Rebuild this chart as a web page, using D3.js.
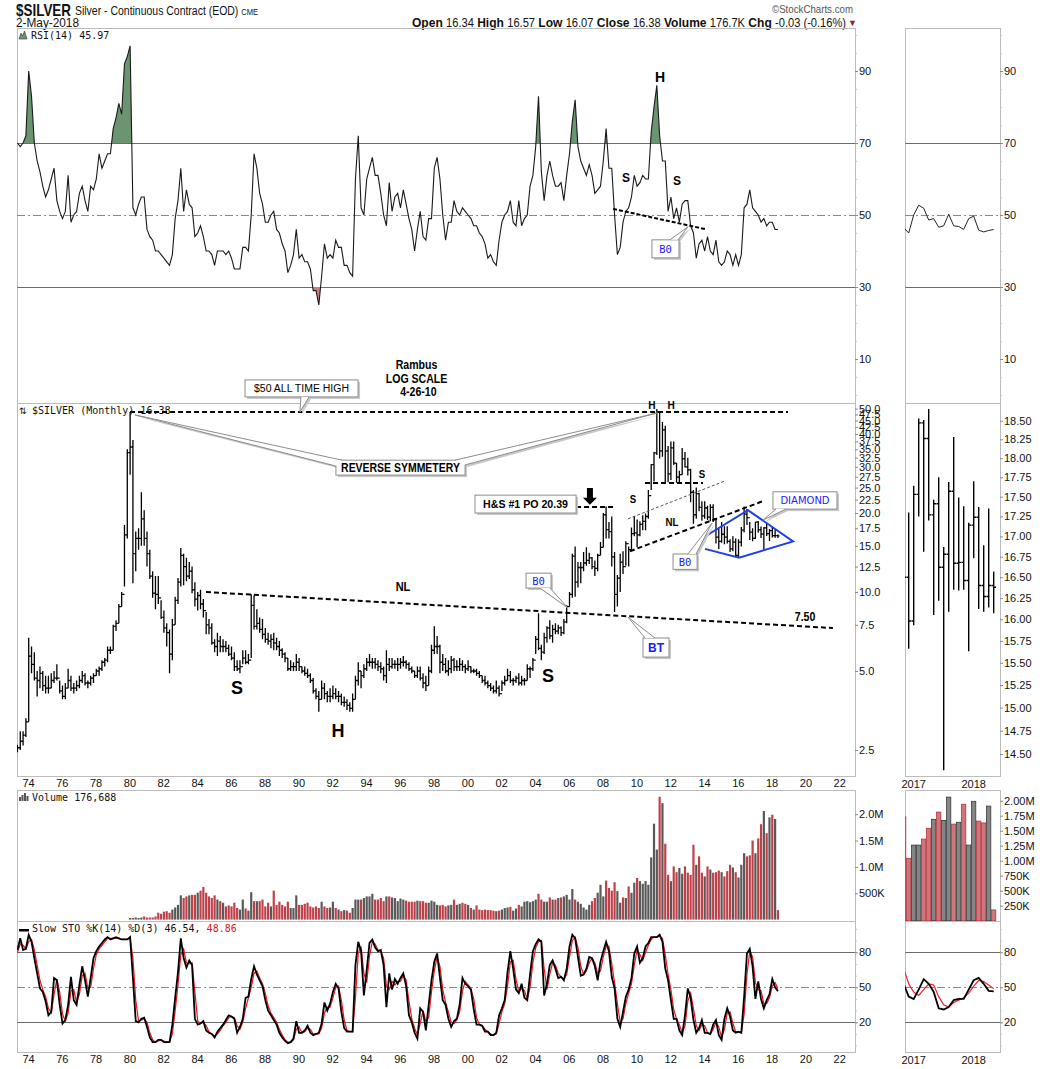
<!DOCTYPE html>
<html>
<head>
<meta charset="utf-8">
<script src="https://cdn.jsdelivr.net/npm/d3@7"></script>
<style>
  body { margin: 0; background: #fff; }
  svg { display: block; }
</style>
</head>
<body>
<svg width="1050" height="1069"></svg>
<script>
// Silver, continuous contract. Main chart: one bar per two months, bar i = months (4+2i, 5+2i) after Jan 1973
const priceHigh = [
  2.62,2.95,2.95,3.3,6.7,6.2,5.9,5.0,5.2,5.0, 4.8,4.8,4.9,5.0,5.3,4.6,4.4,4.5,5.1,4.8,
  4.5,4.6,4.8,5.0,4.9,4.6,4.8,4.9,5.1,5.2, 5.5,5.6,6.2,6.2,7.5,7.8,9.0,10.0,18.0,35.0,
  48.5,38.0,17.0,17.5,24.0,20.5,17.0,14.5,12.0,11.5, 11.5,9.3,8.5,7.6,7.2,7.9,9.6,11.3,14.7,14.0,
  13.5,13.0,12.5,10.9,10.0,10.2,9.4,8.4,7.9,7.6, 6.6,7.0,6.8,6.6,6.5,6.3,6.2,5.9,5.5,5.5,
  6.0,6.0,5.8,9.8,9.7,8.6,8.0,7.9,7.3,7.0, 6.9,7.0,6.7,6.5,6.1,5.9,5.6,5.5,5.4,5.8,
  5.6,5.2,5.2,5.1,4.9,4.7,4.3,4.2,4.6,4.5, 4.2,4.3,4.4,4.3,4.2,4.1,4.0,3.9,3.8,4.1,
  4.8,5.4,5.0,5.3,5.6,5.8,5.6,5.6,5.5,5.4, 5.2,6.0,5.6,5.6,5.5,5.6,5.6,5.7,5.5,5.4,
  5.2,5.0,5.2,5.2,4.9,4.8,5.2,6.3,7.4,6.8, 6.3,5.8,5.6,5.5,5.7,5.6,5.5,5.6,5.5,5.3,
  5.5,5.2,5.1,5.1,5.0,4.8,4.8,4.6,4.5,4.4, 4.6,4.4,4.6,4.8,5.1,5.0,4.7,4.8,4.9,4.8,
  4.7,5.3,5.2,5.6,6.8,8.3,6.3,7.0,7.4,7.8, 7.5,7.6,7.5,7.4,7.9,8.9,10.0,14.0,14.9,13.0,
  13.0,14.2,14.8,14.1,13.6,13.2,14.0,15.5,20.0,21.2, 18.5,19.4,14.2,11.6,14.0,14.3,15.6,14.9,17.6,19.5,
  18.9,18.6,19.6,19.9,24.5,30.7,34.2,49.8,49.0,44.5, 43.0,36.0,37.5,37.5,31.0,29.0,35.4,34.2,32.5,29.5,
  24.5,25.0,23.9,22.2,22.2,21.3,21.6,21.6,19.1,17.4, 18.5,17.8,17.8,15.9,16.3,16.0,15.9,17.7,21.2,20.7,
  18.5,17.5,18.53,18.66,17.75,17.69,18.28,17.38,17.70,17.35, 16.57
];
const priceLow = [
  2.45,2.5,2.6,2.8,3.2,4.9,4.6,4.0,4.3,4.2, 4.1,4.1,4.3,4.5,4.6,4.1,3.9,3.9,4.3,4.2,
  4.1,4.2,4.3,4.5,4.4,4.3,4.4,4.5,4.8,4.8, 5.0,5.2,5.4,5.8,6.0,7.1,7.6,8.8,10.5,16.0,
  28.0,10.8,12.0,14.5,15.0,15.0,12.5,11.2,9.5,8.6, 9.0,7.9,7.0,6.2,4.9,5.5,7.5,9.0,10.5,10.6,
  11.0,11.2,9.9,8.8,8.5,8.6,8.0,6.9,6.9,6.3, 5.9,5.7,5.9,5.9,5.9,5.7,5.5,5.0,5.0,4.9,
  5.3,5.3,5.3,5.6,7.2,7.2,7.0,6.6,6.4,6.3, 6.1,6.0,6.0,5.7,5.6,5.4,5.0,5.0,5.0,5.0,
  5.0,4.9,4.8,4.7,4.5,4.1,3.9,3.5,3.9,3.9, 3.8,3.8,3.9,3.9,3.8,3.7,3.65,3.55,3.5,3.5,
  3.9,4.4,4.3,4.7,5.0,5.2,5.1,5.1,5.0,4.9, 4.6,4.5,5.0,5.1,5.1,5.0,5.1,5.2,5.1,5.0,
  4.9,4.7,4.7,4.6,4.3,4.2,4.4,4.9,5.8,5.8, 4.9,5.0,4.9,4.8,4.9,5.0,5.0,5.0,5.0,4.9,
  5.0,4.9,4.9,4.8,4.7,4.5,4.4,4.3,4.2,4.1, 4.1,4.0,4.2,4.4,4.6,4.5,4.4,4.5,4.4,4.4,
  4.4,4.6,4.7,5.0,5.8,6.0,5.5,5.8,6.4,6.6, 6.4,6.9,6.9,6.8,6.9,7.6,8.8,9.5,9.6,10.4,
  10.8,12.0,12.6,12.8,12.2,11.5,12.0,13.8,14.8,16.0, 16.0,12.5,8.4,8.8,10.0,11.7,12.6,12.5,14.5,16.3,
  14.8,16.3,17.2,17.2,19.0,24.5,26.4,33.3,32.3,32.8, 26.1,26.2,26.7,30.5,26.1,26.0,28.0,29.8,27.8,22.0,
  18.2,19.0,20.3,18.7,19.0,18.8,18.6,18.5,15.3,14.6, 15.4,15.2,15.3,14.2,14.3,13.6,13.6,14.9,16.9,18.0,
  15.8,15.6,15.93,16.81,16.05,14.33,16.34,15.63,16.12,16.09, 16.07
];
const priceClose = [
  2.55,2.7,2.85,3.2,5.7,5.3,4.7,4.6,4.9,4.4, 4.3,4.3,4.6,4.7,4.7,4.2,4.0,4.3,4.6,4.3,
  4.3,4.4,4.6,4.8,4.5,4.5,4.7,4.8,5.0,5.1, 5.4,5.5,6.0,6.0,7.4,7.6,8.8,9.8,16.5,34.0,
  35.7,14.0,16.0,16.0,19.0,16.0,14.0,11.5,9.9,9.8, 9.5,8.0,7.3,7.0,5.8,7.5,9.3,10.9,13.8,12.5,
  11.5,12.0,10.2,9.4,9.7,9.0,8.5,7.5,7.3,6.4, 6.2,6.5,6.2,6.2,6.1,5.8,5.6,5.2,5.1,5.2,
  5.6,5.4,5.5,8.9,7.4,7.6,7.2,6.9,6.6,6.5, 6.6,6.4,6.2,6.0,5.8,5.6,5.1,5.2,5.2,5.4,
  5.2,5.0,4.9,4.8,4.6,4.2,4.0,3.9,4.3,4.1, 4.0,4.0,4.1,4.0,4.0,3.8,3.8,3.7,3.6,3.9,
  4.6,5.0,4.8,5.1,5.4,5.4,5.4,5.3,5.2,5.1, 4.8,5.3,5.2,5.3,5.3,5.3,5.4,5.4,5.3,5.1,
  5.0,4.8,5.0,4.7,4.5,4.4,5.0,6.0,6.2,6.2, 5.4,5.3,5.0,5.1,5.5,5.2,5.2,5.3,5.2,5.1,
  5.2,5.0,5.0,4.9,4.8,4.6,4.5,4.4,4.3,4.2, 4.3,4.1,4.5,4.6,4.8,4.6,4.6,4.7,4.5,4.6,
  4.6,5.1,5.1,5.5,6.6,6.1,5.9,6.7,7.3,6.8, 7.2,7.1,7.3,7.0,7.7,8.8,9.8,13.7,10.9,12.4,
  12.4,12.9,13.2,13.5,12.5,12.3,13.8,14.8,19.7,17.3, 17.0,13.6,9.8,11.3,13.0,12.5,15.3,14.5,16.7,16.8,
  16.5,18.1,18.6,19.4,23.3,30.6,33.9,48.6,34.5,41.5, 34.5,28.2,35.4,31.0,27.4,28.0,32.2,30.0,29.2,24.0,
  19.7,23.7,21.0,19.5,20.9,19.3,21.0,19.0,16.2,15.6, 16.6,16.2,15.6,14.6,15.5,13.8,15.5,17.2,19.8,19.2,
  16.9,16.0,18.47,17.27,16.62,17.57,16.68,17.14,16.40,16.40, 16.38
];
const rsi = [
  70,69,70,72,90,83,70,65,62,58, 55,57,60,63,54,51,49,51,61,48,
  50,51,56,58,54,51,58,57,60,67, 63,65,67,67,74,77,81,78,92,94,
  97,52,50,53,55,55,46,44,43,40, 40,39,38,37,36,39,49,54,63,51,
  57,53,52,44,45,47,44,40,40,39, 36,40,40,40,39,40,38,35,35,35,
  41,41,40,50,67,63,56,53,48,48, 50,51,46,45,42,40,34,36,39,46,
  38,39,37,37,35,29,29,25,33,42, 38,39,38,43,41,41,36,36,34,33,
  60,72,52,50,60,63,66,61,61,56, 50,47,59,51,55,56,52,57,53,49,
  46,40,46,51,44,43,49,49,63,66, 60,50,43,48,48,54,51,50,52,51,
  50,49,47,47,45,44,42,38,39,37, 36,43,48,50,51,54,48,47,54,47,
  49,50,58,61,69,83,62,54,61,65, 61,58,58,59,54,61,67,76,82,69,
  65,63,61,64,61,56,57,58,65,74, 63,63,50,39,41,48,51,52,55,61,
  58,59,61,60,60,73,80,86,72,65, 65,51,55,49,52,48,53,54,54,47,
  45,38,42,43,40,44,40,39,43,37, 36,37,40,39,36,39,36,39,52,53,
  57,52,51,50,48,49,47,48,48,46, 45.97
];
const stoK = [
  82,92,82,83,95,89,75,62,49,46, 38,26,29,58,56,35,19,22,35,59,
  39,35,52,68,56,42,58,75,81,85, 88,91,93,91,92,93,92,91,91,91,
  93,58,21,20,23,24,16,7,3,3, 5,5,3,3,3,18,41,63,92,75,
  67,73,69,23,18,19,21,13,11,10, 7,12,15,18,22,26,25,23,11,16,
  23,41,42,57,68,61,56,51,39,30, 26,22,18,11,7,4,2,3,6,21,
  11,11,13,17,11,9,10,11,19,37, 30,36,46,53,49,29,15,12,12,12,
  69,89,81,43,65,88,91,84,81,82, 69,33,62,48,57,53,58,62,51,26,
  20,11,6,32,29,13,35,56,72,79, 58,39,35,23,16,21,23,35,58,53,
  51,48,31,18,18,17,12,12,9,9, 11,26,32,39,63,81,66,48,45,53,
  41,39,61,81,87,91,89,43,53,69, 73,66,58,59,56,66,85,95,92,76,
  60,61,66,76,75,68,56,72,81,89, 81,59,49,23,16,29,42,48,58,79,
  85,71,75,85,88,93,93,93,95,89, 66,56,39,23,23,13,9,26,49,41,
  22,11,15,22,11,11,10,18,22,9, 5,23,32,25,13,11,12,11,42,79,
  83,68,40,55,40,32,39,44,57,50, 46.54
];
const stoD = [
  80,87,86,83,89,91,82,69,56,48, 42,32,28,44,57,46,27,21,28,47,
  48,37,44,60,62,49,50,66,78,83, 86,89,92,92,92,92,92,91,91,91,
  92,75,39,21,22,23,20,11,5,3, 4,5,4,3,3,10,30,52,78,83,
  71,70,71,46,21,19,20,17,12,10, 8,10,13,17,20,24,25,24,17,14,
  20,32,41,50,62,64,58,53,45,34, 28,24,20,14,9,5,3,3,5,14,
  16,11,12,15,14,10,10,10,15,28, 33,33,41,50,51,39,22,13,12,12,
  41,79,85,62,54,77,89,87,82,81, 75,51,48,55,52,55,55,60,56,38,
  23,15,9,19,30,21,24,46,64,76, 68,48,37,29,20,19,22,29,47,55,
  52,49,40,24,18,17,14,12,10,9, 10,19,29,36,51,72,73,57,46,49,
  47,40,50,71,84,89,90,66,48,61, 71,69,62,59,57,61,76,90,93,84,
  68,61,64,71,75,71,62,64,76,85, 85,70,54,36,20,23,36,45,53,69,
  82,78,73,80,86,91,93,93,94,92, 78,61,48,31,23,18,11,17,38,45,
  32,17,13,18,17,11,10,14,20,16, 7,14,28,29,19,12,12,11,27,61,
  81,76,54,48,47,36,36,41,51,54, 48.86
];
// volume in millions, first value is bar 40 (Jan-Feb 1980)
const volumeFirstBar = 40;
const volume = [
  0.03,0.03,0.04,0.03,0.04,0.06,0.04,0.04,0.04,0.06, 0.13,0.11,0.15,0.16,0.13,0.19,0.23,0.28,0.46,0.41,
  0.44,0.46,0.47,0.47,0.51,0.55,0.62,0.51,0.44,0.41, 0.46,0.38,0.35,0.32,0.25,0.27,0.25,0.32,0.22,0.19,
  0.38,0.21,0.17,0.52,0.35,0.35,0.35,0.38,0.25,0.32, 0.25,0.55,0.28,0.34,0.28,0.25,0.34,0.22,0.22,0.46,
  0.28,0.28,0.30,0.32,0.25,0.23,0.25,0.22,0.34,0.25, 0.22,0.23,0.34,0.22,0.19,0.16,0.18,0.17,0.13,0.22,
  0.38,0.38,0.38,0.41,0.44,0.44,0.49,0.38,0.38,0.41, 0.35,0.44,0.44,0.42,0.41,0.35,0.40,0.38,0.36,0.34,
  0.34,0.34,0.36,0.35,0.35,0.32,0.32,0.36,0.34,0.28, 0.27,0.28,0.25,0.27,0.28,0.38,0.28,0.30,0.32,0.30,
  0.28,0.22,0.19,0.27,0.19,0.18,0.19,0.18,0.18,0.17, 0.16,0.17,0.19,0.22,0.23,0.24,0.17,0.21,0.28,0.25,
  0.34,0.35,0.33,0.35,0.38,0.49,0.38,0.34,0.34,0.42, 0.38,0.38,0.41,0.42,0.44,0.47,0.38,0.58,0.38,0.34,
  0.30,0.23,0.19,0.28,0.35,0.41,0.51,0.66,0.44,0.74, 0.60,0.55,0.71,0.54,0.32,0.42,0.41,0.63,0.51,0.70,
  0.79,0.73,0.68,0.73,0.66,1.18,1.82,1.33,2.33,2.21, 1.44,0.85,0.73,1.01,0.90,0.98,0.87,1.01,0.89,0.85,
  1.42,1.04,1.20,0.89,0.82,1.01,0.95,0.89,0.90,0.93, 0.90,0.82,0.92,1.04,0.99,0.90,0.80,1.04,1.26,1.20,
  1.22,1.50,1.26,1.54,1.81,2.06,1.64,1.94,1.99,1.91, 0.18
];
const yearTicks = [1974,1976,1978,1980,1982,1984,1986,1988,1990,1992,1994,1996,1998,2000,2002,2004,2006,2008,2010,2012,2014,2016,2018,2020,2022];
const priceTicks = [2.5,5,7.5,10,12.5,15,17.5,20,22.5,25,27.5,30,32.5,35,37.5,40,42.5,45,47.5,50];

// side panel: monthly bars Nov 2016 .. May 2018
const recentMonths = ["Nov 16","Dec 16","Jan 17","Feb 17","Mar 17","Apr 17","May 17","Jun 17","Jul 17","Aug 17","Sep 17","Oct 17","Nov 17","Dec 17","Jan 18","Feb 18","Mar 18","Apr 18","May 18"];
const recentHigh = [18.7,17.30,17.64,18.53,18.51,18.66,17.46,17.75,16.87,17.69,18.28,17.49,17.38,17.17,17.70,17.37,16.89,17.35,16.57];
const recentLow = [16.4,15.66,15.93,17.25,16.81,17.20,16.05,16.22,14.33,16.09,16.35,16.34,16.35,15.63,16.73,16.12,16.09,16.14,16.07];
const recentClose = [16.5,15.98,17.53,18.47,18.26,17.27,17.41,16.62,16.78,17.57,16.67,16.68,16.46,17.14,17.24,16.40,16.27,16.40,16.38];
const closeBeforeRecent = 17.7;
const recentVolume = [1.73,1.04,1.26,1.26,1.36,1.54,1.69,1.81,1.67,2.06,1.61,1.64,1.94,1.26,1.99,1.66,1.63,1.91,0.18];
const recentRsi = [46.5,45,50,52.7,51.9,48.6,49,46.6,47,50.2,47,46.8,46,49,49.7,45.8,45.3,45.7,45.97];
const recentK = [53,42,40,48,57,53,46,32,31,33,39,40,40,48,56,58,53,47,46.54];
const recentD = [66,53,46,43,48,53,52,42,35,33,37,39,41,45,51,56,55,52,48.86];

const SANS = "'Liberation Sans',Arial,sans-serif";
const MONO = "'DejaVu Sans Mono',monospace";

const svg = d3.select("svg");
const defs = svg.append("defs");

const MAIN = [17, 855], SIDE = [905, 1000];
const BAND = { rsi: [28, 403], price: [403, 776], vol: [790, 921], sto: [921, 1052] };

const x = d3.scaleLinear().domain([1974, 2022]).range([28, 839.2]);
const dateOf = i => 1973 + (4 + 2 * i + 0.5) / 12;
const xi = i => x(dateOf(i));
const xr = d3.scaleLinear().domain([0, 18]).range([903.7, 993.7]);

const yRsi = d3.scaleLinear().domain([30, 70]).range([287, 143]);
const yPrice = d3.scaleLog().domain([2.5, 50]).range([750, 408.6]);
const yVol = d3.scaleLinear().domain([0, 2]).range([919.6, 814.2]);
const ySto = d3.scaleLinear().domain([20, 80]).range([1022.3, 952.3]);
const yPriceR = d3.scaleLog().domain([14.5, 18.5]).range([754, 420.7]);
const yVolR = d3.scaleLinear().domain([0, 2]).range([920.7, 800.7]);

function clip(id, x0, y0, x1, y1) {
  defs.append("clipPath").attr("id", id).append("rect")
    .attr("x", x0).attr("y", y0).attr("width", x1 - x0).attr("height", y1 - y0);
  return `url(#${id})`;
}
// condensed text: squeeze a string into a given width
function squeezed(g, xPos, yPos, width, size, str, anchor) {
  return g.append("text").attr("x", xPos).attr("y", yPos).attr("font-size", size)
    .attr("text-anchor", anchor || "start")
    .attr("textLength", width).attr("lengthAdjust", "spacingAndGlyphs").text(str);
}

// ---------- header ----------
const head = svg.append("g").attr("font-family", SANS).attr("fill", "#111");
squeezed(head, 16, 16, 55, 17, "$SILVER").attr("font-weight", "bold");
const subtitle = head.append("text").attr("x", 75).attr("y", 15).attr("font-size", 12.5)
  .attr("textLength", 183).attr("lengthAdjust", "spacingAndGlyphs");
subtitle.append("tspan").text("Silver - Continuous Contract (EOD) ");
subtitle.append("tspan").attr("font-size", 9).text("CME");
squeezed(head, 853, 13, 81, 11, "\u00a9StockCharts.com", "end").attr("fill", "#555");
squeezed(head, 16, 27, 63, 12, "2-May-2018");
const quote = head.append("text").attr("x", 846).attr("y", 27).attr("font-size", 12).attr("text-anchor", "end")
  .attr("textLength", 434).attr("lengthAdjust", "spacingAndGlyphs");
[["Open", "16.34"], ["High", "16.57"], ["Low", "16.07"], ["Close", "16.38"], ["Volume", "176.7K"], ["Chg", "-0.03 (-0.16%)"]].forEach(([k, v], n) => {
  quote.append("tspan").attr("font-weight", "bold").attr("font-size", 13).text((n ? " " : "") + k + " ");
  quote.append("tspan").text(v);
});
head.append("text").attr("x", 848).attr("y", 26).attr("font-size", 9).attr("fill", "#a01c2c").text("\u25bc");

// ---------- frames and guides ----------
const frame = svg.append("g");
Object.values(BAND).forEach(([t, b]) => {
  [MAIN, SIDE].forEach(([l, r]) => {
    frame.append("rect").attr("x", l + 0.5).attr("y", t + 0.5).attr("width", r - l).attr("height", b - t)
      .attr("fill", "none").attr("stroke", "#bcbcbc");
  });
});
function guide(y, dashed) {
  [MAIN, SIDE].forEach(([l, r]) => {
    frame.append("line").attr("x1", l).attr("x2", r).attr("y1", Math.round(y) + 0.5).attr("y2", Math.round(y) + 0.5)
      .attr("stroke", dashed ? "#888" : "#6c6c6c").attr("stroke-dasharray", dashed ? "8,3,2,3" : null);
  });
}
guide(yRsi(70)); guide(yRsi(30)); guide(yRsi(50), true);
guide(ySto(80)); guide(ySto(20)); guide(ySto(50), true);

// ---------- axes ----------
function rightAxis(xPos, scale, values, fmt, minor) {
  if (minor) {
    const m = svg.append("g").attr("transform", `translate(${xPos},0)`)
      .call(d3.axisRight(scale).tickValues(minor).tickSize(2).tickFormat(""));
    m.select(".domain").remove();
    m.selectAll("line").attr("stroke", "#c8c8c8");
  }
  const a = svg.append("g").attr("transform", `translate(${xPos},0)`)
    .call(d3.axisRight(scale).tickValues(values).tickFormat(fmt).tickSize(3).tickPadding(1));
  a.select(".domain").remove();
  a.selectAll("line").attr("stroke", "#8a8a8a");
  a.selectAll("text").attr("font-family", SANS).attr("font-size", 11).attr("fill", "#111");
}
const volFmt = d => d >= 1 ? d.toFixed(1) + "M" : Math.round(d * 1000) + "K";
const volFmtR = d => d >= 1 ? d.toFixed(2) + "M" : Math.round(d * 1000) + "K";
const quarterSteps = d3.range(14.5, 18.51, 0.25);
[MAIN[1], SIDE[1]].forEach((xp, side) => {
  rightAxis(xp, yRsi, [10, 30, 50, 70, 90], d3.format("d"), d3.range(0, 101, 5));
  rightAxis(xp, ySto, [20, 50, 80], d3.format("d"), d3.range(0, 101, 10));
  if (side === 0) {
    rightAxis(xp, yPrice, priceTicks, d3.format(".1f"));
    rightAxis(xp, yVol, [0.5, 1, 1.5, 2], volFmt);
  } else {
    rightAxis(xp, yPriceR, quarterSteps, d3.format(".2f"));
    rightAxis(xp, yVolR, d3.range(0.25, 2.01, 0.25), volFmtR);
  }
});
[BAND.price[1], BAND.sto[1]].forEach(yPos => {
  const a = svg.append("g").attr("transform", `translate(0,${yPos})`)
    .call(d3.axisBottom(x).tickValues(yearTicks).tickFormat(d => String(d % 100).padStart(2, "0")).tickSize(0).tickPadding(3));
  a.select(".domain").remove();
  a.selectAll("text").attr("font-family", SANS).attr("font-size", 11).attr("fill", "#111");
  [[2, "2017"], [14, "2018"]].forEach(([j, t]) => {
    svg.append("text").attr("x", xr(j)).attr("y", yPos + 12).attr("text-anchor", "middle")
      .attr("font-family", SANS).attr("font-size", 11).attr("fill", "#111").text(t);
  });
});

// ---------- RSI ----------
const rsiMain = svg.append("g").attr("clip-path", clip("c-rsi", MAIN[0], BAND.rsi[0], MAIN[1], BAND.rsi[1]));
const overbought = clip("c-ob", MAIN[0], BAND.rsi[0], MAIN[1], yRsi(70));
const oversold = clip("c-os", MAIN[0], yRsi(30), MAIN[1], BAND.rsi[1]);
rsiMain.append("path").attr("clip-path", overbought).attr("fill", "#6d9470")
  .attr("d", d3.area().x((d, i) => xi(i)).y0(yRsi(70)).y1(d => yRsi(d))(rsi));
rsiMain.append("path").attr("clip-path", oversold).attr("fill", "#c47f80")
  .attr("d", d3.area().x((d, i) => xi(i)).y0(yRsi(30)).y1(d => yRsi(d))(rsi));
rsiMain.append("path").attr("fill", "none").attr("stroke", "#1a1a1a").attr("stroke-width", 1.1)
  .attr("d", d3.line().x((d, i) => xi(i)).y(d => yRsi(d))(rsi));
svg.append("g").attr("clip-path", clip("c-rsi-r", SIDE[0], BAND.rsi[0], SIDE[1], BAND.rsi[1]))
  .append("path").attr("fill", "none").attr("stroke", "#222").attr("stroke-width", 1)
  .attr("d", d3.line().x((d, j) => xr(j)).y(d => yRsi(d))(recentRsi));

// ---------- price bars ----------
function ohlc(xp, ys, h, l, o, c, t) {
  return `M${xp},${ys(h)}V${ys(l)}M${xp - t},${ys(o)}H${xp}M${xp},${ys(c)}H${xp + t}`;
}
svg.append("g").attr("clip-path", clip("c-price", MAIN[0], BAND.price[0], MAIN[1], BAND.price[1]))
  .selectAll("path").data(priceClose).join("path")
  .attr("fill", "none").attr("stroke", "#000").attr("stroke-width", 1.3)
  .attr("d", (c, i) => ohlc(xi(i), yPrice, priceHigh[i], priceLow[i], i ? priceClose[i - 1] : c, c, 1.5));
svg.append("g").attr("clip-path", clip("c-price-r", SIDE[0], BAND.price[0], SIDE[1], BAND.price[1]))
  .selectAll("path").data(recentClose).join("path")
  .attr("fill", "none").attr("stroke", "#000").attr("stroke-width", 1.4)
  .attr("d", (c, j) => ohlc(xr(j), yPriceR, recentHigh[j], recentLow[j], j ? recentClose[j - 1] : closeBeforeRecent, c, 2.3));

// ---------- volume ----------
svg.append("g").attr("clip-path", clip("c-vol", MAIN[0], BAND.vol[0], MAIN[1], BAND.vol[1]))
  .selectAll("rect").data(volume).join("rect")
  .attr("x", (v, k) => xi(k + volumeFirstBar) - 1.1).attr("width", 2.2)
  .attr("y", v => yVol(v)).attr("height", v => yVol(0) - yVol(v))
  .attr("fill", (v, k) => priceClose[k + volumeFirstBar] < priceClose[k + volumeFirstBar - 1] ? "#c0404a" : "#595959");
svg.append("g").attr("clip-path", clip("c-vol-r", SIDE[0], BAND.vol[0], SIDE[1], BAND.vol[1]))
  .selectAll("rect").data(recentVolume).join("rect")
  .attr("x", (v, j) => xr(j) - 2.1).attr("width", 4.2)
  .attr("y", v => yVolR(v)).attr("height", v => yVolR(0) - yVolR(v))
  .attr("fill", (v, j) => recentClose[j] < (j ? recentClose[j - 1] : closeBeforeRecent) ? "#cf767c" : "#858585")
  .attr("stroke", (v, j) => recentClose[j] < (j ? recentClose[j - 1] : closeBeforeRecent) ? "#b8323b" : "#3a3a3a")
  .attr("stroke-width", 0.8);

// ---------- slow stochastic ----------
const stoMain = svg.append("g").attr("clip-path", clip("c-sto", MAIN[0], BAND.sto[0], MAIN[1], BAND.sto[1]));
stoMain.append("path").attr("fill", "none").attr("stroke", "#e8141e").attr("stroke-width", 1.2)
  .attr("d", d3.line().x((d, i) => xi(i)).y(d => ySto(d))(stoD));
stoMain.append("path").attr("fill", "none").attr("stroke", "#000").attr("stroke-width", 1.8)
  .attr("d", d3.line().x((d, i) => xi(i)).y(d => ySto(d))(stoK));
const stoSide = svg.append("g").attr("clip-path", clip("c-sto-r", SIDE[0], BAND.sto[0], SIDE[1], BAND.sto[1]));
stoSide.append("path").attr("fill", "none").attr("stroke", "#f0202a").attr("stroke-width", 1.2)
  .attr("d", d3.line().x((d, j) => xr(j)).y(d => ySto(d))(recentD));
stoSide.append("path").attr("fill", "none").attr("stroke", "#000").attr("stroke-width", 1.8)
  .attr("d", d3.line().x((d, j) => xr(j)).y(d => ySto(d))(recentK));

// ---------- panel titles ----------
const titles = svg.append("g").attr("font-family", MONO).attr("font-size", 10).attr("fill", "#111");
titles.append("path").attr("d", "M19,39 L21,33 L22.5,36 L24.5,31 L27,39 Z").attr("fill", "#6d9470").attr("stroke", "#333").attr("stroke-width", 0.6);
titles.append("text").attr("x", 31).attr("y", 39).text("RSI(14) 45.97");
titles.append("text").attr("x", 19).attr("y", 414).attr("font-family", "'DejaVu Sans',sans-serif").attr("font-size", 9).text("\u21c5");
titles.append("text").attr("x", 32).attr("y", 414).text("$SILVER (Monthly) 16.38");
[[19, 4], [21.5, 6], [24, 8], [26.5, 5]].forEach(([bx, bh]) => {
  titles.append("rect").attr("x", bx).attr("y", 801 - bh).attr("width", 2).attr("height", bh).attr("fill", "#555");
});
titles.append("text").attr("x", 32).attr("y", 801).text("Volume 176,688");
titles.append("rect").attr("x", 19).attr("y", 929).attr("width", 10).attr("height", 2.5).attr("fill", "#000");
const stoTitle = titles.append("text").attr("x", 32).attr("y", 932);
stoTitle.append("tspan").text("Slow STO %K(14) %D(3) 46.54, ");
stoTitle.append("tspan").attr("fill", "#e8141e").text("48.86");

// ---------- annotations ----------
const P = ([yr, v]) => [x(yr), yPrice(v)];
const R = ([yr, v]) => [x(yr), yRsi(v)];
const notes = svg.append("g");

const dashedLines = [
  { pts: [[1980.04, 48.5], [2018.97, 48.5]], w: 2, dash: "5,3", color: "#000" },
  { pts: [[1984.53, 10.0], [2021.63, 7.29]], w: 2, dash: "5,3", color: "#000" },
  { pts: [[2006.43, 21.1], [2008.62, 21.1]], w: 2, dash: "5,3", color: "#000" },
  { pts: [[2010.51, 26.0], [2013.94, 26.0]], w: 2, dash: "5,3", color: "#000" },
  { pts: [[2009.50, 19.0], [2015.24, 26.5]], w: 1, dash: "3,2", color: "#555" },
  { pts: [[2009.62, 14.3], [2017.49, 22.2]], w: 2, dash: "5,3", color: "#000" }
];
dashedLines.forEach(l => {
  notes.append("path").attr("d", d3.line()(l.pts.map(P))).attr("fill", "none")
    .attr("stroke", l.color).attr("stroke-width", l.w).attr("stroke-dasharray", l.dash);
});
notes.append("path").attr("d", d3.line()([[2008.62, 51.7], [2014.06, 46.1]].map(R))).attr("fill", "none")
  .attr("stroke", "#000").attr("stroke-width", 2).attr("stroke-dasharray", "4,2");

const diamond = [[2013.94, 16.1], [2016.60, 20.5], [2019.27, 15.6], [2016.07, 13.5], [2014.06, 14.6]];
notes.append("path").attr("d", d3.line()(diamond.map(P))).attr("fill", "none")
  .attr("stroke", "#1f3fe6").attr("stroke-width", 2);

// down arrow above the 2008 target line
const [ax, ayTop] = P([2007.25, 24.9]);
const ayBot = yPrice(21.5);
notes.append("path").attr("fill", "#000")
  .attr("d", `M${ax - 3},${ayTop}H${ax + 3}V${ayBot - 7}H${ax + 7}L${ax},${ayBot}L${ax - 7},${ayBot - 7}H${ax - 3}Z`);

function callout(box, tails, text, style, toXY) {
  const [x0, y0] = toXY([box[0], box[1]]);
  const [x1, y1] = toXY([box[2], box[3]]);
  const w = x1 - x0, h = y1 - y0;
  const g = notes.append("g");
  const tailPts = tails.map(t => t.map(toXY));
  g.append("rect").attr("x", x0 + 2).attr("y", y0 + 2).attr("width", w).attr("height", h).attr("fill", "#c8c8c8");
  tailPts.forEach(t => g.append("polygon").attr("points", t.map(p => [p[0] + 2, p[1] + 2]).join(" ")).attr("fill", "#c8c8c8"));
  g.append("rect").attr("x", x0).attr("y", y0).attr("width", w).attr("height", h).attr("fill", "#fff").attr("stroke", "#8c8c8c");
  tailPts.forEach(t => {
    g.append("polygon").attr("points", t.join(" ")).attr("fill", "#fff");
    g.append("polyline").attr("points", t.join(" ")).attr("fill", "none").attr("stroke", "#8c8c8c");
  });
  const label = g.append("text").attr("x", x0 + w / 2).attr("y", y0 + h / 2).attr("text-anchor", "middle")
    .attr("dominant-baseline", "central").attr("font-family", style.font).attr("font-size", style.size)
    .attr("font-weight", style.bold ? "bold" : null).attr("fill", style.color).text(text);
  if (style.fit) label.attr("textLength", w * style.fit).attr("lengthAdjust", "spacingAndGlyphs");
}
const boldBox = { font: SANS, size: 12, bold: true, color: "#000", fit: 0.92 };
const blueMono = { font: MONO, size: 10.5, color: "#1a1aff" };
callout([1986.84, 64.3, 1993.53, 55.4], [[[1990.15, 55.4], [1990.09, 48.5], [1990.63, 55.4]]],
  "$50 ALL TIME HIGH", { font: SANS, size: 10, color: "#000", fit: 0.84 }, P);
callout([1992.22, 31.8, 1999.86, 27.9],
  [[[1992.58, 31.8], [1980.33, 47.3], [1992.22, 30.2]], [[1999.27, 31.8], [2011.22, 48.1], [1999.86, 30.5]]],
  "REVERSE SYMMETERY", boldBox, P);
callout([2000.45, 23.4, 2006.43, 20.0], [], "H&S #1 PO 20.39", { font: SANS, size: 11.5, bold: true, color: "#000", fit: 0.84 }, P);
callout([2018.08, 24.1, 2021.87, 20.7], [[[2018.26, 20.7], [2017.49, 18.8], [2018.85, 20.7]]],
  "DIAMOND", { font: "'DejaVu Sans',sans-serif", size: 10, color: "#1a1aff" }, P);
callout([2012.17, 13.96, 2013.59, 12.2], [[[2013.05, 13.96], [2014.47, 18.3], [2013.53, 13.96]]], "B0", blueMono, P);
callout([2003.47, 11.8, 2004.95, 10.35], [[[2004.30, 10.35], [2005.95, 8.69], [2004.89, 10.35]]], "B0", blueMono, P);
callout([2010.39, 6.68, 2011.93, 5.65], [[[2010.51, 6.68], [2009.50, 8.03], [2011.10, 6.68]]],
  "BT", { font: SANS, size: 12, bold: true, color: "#1a1aff" }, P);
callout([2010.92, 43.1, 2012.52, 38.1], [[[2011.99, 43.1], [2013.05, 46.7], [2012.46, 43.1]]], "B0", blueMono, R);

const priceLabels = [
  ["S", 1986.37, 4.31, 18], ["H", 1992.34, 2.95, 18], ["S", 2004.77, 4.79, 18],
  ["NL", 1996.19, 10.5, 12.5], ["7.50", 2019.98, 8.03, 12],
  ["H", 2010.92, 51.6, 11.5], ["H", 2012.05, 51.6, 11.5],
  ["S", 2009.80, 22.6, 11], ["S", 2013.88, 28.2, 11], ["NL", 2012.11, 18.5, 11],
  ["Rambus", 1996.99, 73.3, 12], ["LOG SCALE", 1996.99, 64.8, 12], ["4-26-10", 1997.1, 57.8, 12]
];
priceLabels.forEach(([t, yr, v, s]) => {
  const [px, py] = P([yr, v]);
  const label = notes.append("text").attr("x", px).attr("y", py).attr("text-anchor", "middle").attr("dominant-baseline", "central")
    .attr("font-family", SANS).attr("font-size", s).attr("font-weight", "bold").text(t);
  if (s < 18) label.attr("transform", `translate(${px},0) scale(0.88,1) translate(${-px},0)`);
});
[["H", 2011.40, 88.3, 14], ["S", 2009.39, 60.3, 12], ["S", 2012.40, 59.4, 12]].forEach(([t, yr, v, s]) => {
  const [px, py] = R([yr, v]);
  notes.append("text").attr("x", px).attr("y", py).attr("text-anchor", "middle").attr("dominant-baseline", "central")
    .attr("font-family", SANS).attr("font-size", s).attr("font-weight", "bold").text(t);
});
</script>
</body>
</html>
